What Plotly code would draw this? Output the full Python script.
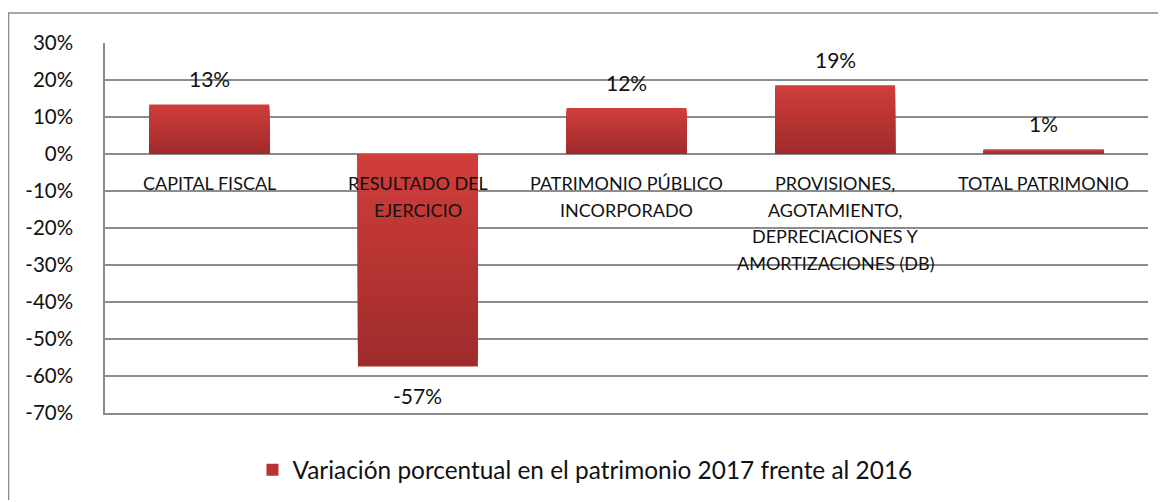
import plotly.graph_objects as go

categories = ["CAPITAL FISCAL", "RESULTADO DEL<br>EJERCICIO", "PATRIMONIO PÚBLICO<br>INCORPORADO",
              "PROVISIONES,<br>AGOTAMIENTO,<br>DEPRECIACIONES Y<br>AMORTIZACIONES (DB)", "TOTAL PATRIMONIO"]
cat_keys = ["c1", "c2", "c3", "c4", "c5"]
values = [0.134, -0.574, 0.124, 0.186, 0.012]
series_name = "Variación porcentual en el patrimonio 2017 frente al 2016"
tick_vals = [0.3, 0.2, 0.1, 0.0, -0.1, -0.2, -0.3, -0.4, -0.5, -0.6, -0.7]

OFF = 8  # default page body margin
W, H = 1166 - OFF, 502 - OFF - 2
# plot area in page pixels: left 105, right 1148, top 43, bottom 413
L, T = 105 - OFF, 43 - OFF
PW, PH = 1148 - 105, 413 - 43
R, B = W - L - PW, H - T - PH

top_rgb = (208, 62, 59)
bot_rgb = (158, 43, 43)
N = 30
FONT = "Lato"
LINE_H = 26.5

def mix(t):
    return "rgb(%d,%d,%d)" % tuple(round(a + (b - a) * t) for a, b in zip(top_rgb, bot_rgb))

fig = go.Figure()
for k in range(N):
    j = N - k - 1  # visible band index (0 = at zero line)
    ys, cols = [], []
    for v in values:
        ys.append(v * (N - k) / N)
        t = (N - 1 - j + 0.5) / N if v >= 0 else (j + 0.5) / N
        cols.append(mix(t))
    fig.add_trace(go.Bar(x=cat_keys, y=ys, width=0.575,
                         marker=dict(color=cols, line=dict(width=0)),
                         showlegend=False, hoverinfo="skip"))

# legend entry
fig.add_trace(go.Bar(x=[cat_keys[0]], y=[None], name=series_name,
                     marker=dict(color=mix(0.5), line=dict(width=0)), showlegend=True))

for key, lab in zip(cat_keys, categories):
    for n, line in enumerate(lab.split("<br>")):
        fig.add_annotation(x=key, y=0, text=line, showarrow=False, yanchor="middle",
                           yshift=-29 - n * LINE_H,
                           font=dict(family=FONT, size=18, color="#111"), align="center")

for key, v in zip(cat_keys, values):
    fig.add_annotation(x=key, y=v, text=f"{round(v*100)}%", showarrow=False, yanchor="middle",
                       yshift=26 if v >= 0 else -29,
                       font=dict(family=FONT, size=21, color="#111"))

def px_x(p): return (p - 105) / PW
def px_y(p): return (413 - p) / PH

fig.add_shape(type="rect", xref="paper", yref="paper", x0=px_x(8.5), y0=px_y(13), x1=px_x(1180), y1=px_y(520),
              line=dict(color="#8a8a8a", width=1.5), fillcolor="rgba(0,0,0,0)", layer="below")

fig.update_layout(
    width=W, height=H, margin=dict(l=L, r=R, t=T, b=B, autoexpand=False),
    paper_bgcolor="white", plot_bgcolor="white", barmode="overlay",
    font=dict(family=FONT, color="#111"),
    legend=dict(orientation="h", x=px_x(585), y=px_y(470), xanchor="center", yanchor="middle",
                font=dict(family=FONT, size=24.4, color="#111"), bgcolor="rgba(0,0,0,0)"),
    showlegend=True,
)
fig.update_xaxes(showticklabels=False, showgrid=False, zeroline=False,
                 showline=True, linecolor="#8c8c8c", linewidth=1.5,
                 categoryorder="array", categoryarray=cat_keys, range=[-0.5, 4.5])
fig.update_yaxes(range=[-0.7, 0.3], tickvals=tick_vals, ticktext=[f"{round(t*100)}%" for t in tick_vals],
                 showgrid=True, gridcolor="#8c8c8c", gridwidth=1.5, zeroline=False,
                 showline=True, linecolor="#8c8c8c", linewidth=1.5, ticks="",
                 ticklabelstandoff=26, tickfont=dict(family=FONT, size=20.5, color="#111"))

fig.write_html("out.html")
